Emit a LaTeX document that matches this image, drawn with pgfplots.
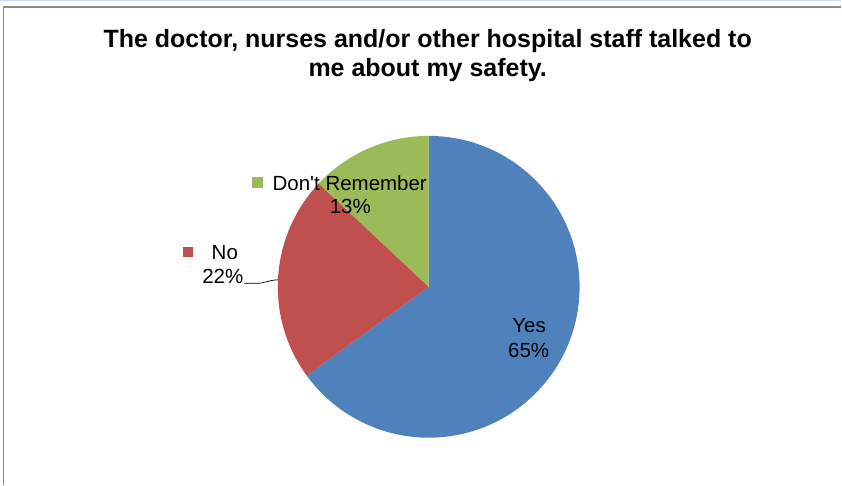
\documentclass[border=0pt]{standalone}
\usepackage{pgfplots}
\pgfplotsset{compat=1.18}
\usepackage{pgfplotstable}
\usepackage{fontspec}
\setmainfont{Liberation Sans}

\definecolor{yesblue}{HTML}{4F81BD}
\definecolor{nored}{HTML}{C0504D}
\definecolor{drgreen}{HTML}{9BBB59}
\definecolor{framegray}{HTML}{8C8C8C}
\definecolor{topblue}{HTML}{C6D9F1}

% share of answers, in percent
\pgfplotstableread{
answer value
Yes 65
No 22
DontRemember 13
}\piedata

\pgfplotstablegetelem{0}{value}\of\piedata \let\vYes\pgfplotsretval
\pgfplotstablegetelem{1}{value}\of\piedata \let\vNo\pgfplotsretval
\pgfplotstablegetelem{2}{value}\of\piedata \let\vDR\pgfplotsretval
% wedges run clockwise from 12 o'clock
\pgfmathsetmacro\aA{90-3.6*\vYes}
\pgfmathsetmacro\aB{\aA-3.6*\vNo}
\pgfmathsetmacro\aC{\aB-3.6*\vDR}

\tikzset{lbl/.style={font=\fontsize{20.5}{24.5}\selectfont, inner sep=0pt, anchor=base}}

\begin{document}
\begin{tikzpicture}
\begin{axis}[
    scale only axis, width=842pt, height=485pt,
    xmin=0, xmax=842, ymin=0, ymax=485,
    hide axis, clip=false,
]
% frame
\fill[topblue] (axis cs:0,483.5) rectangle (axis cs:842,485);
\draw[framegray, line width=1.2pt] (axis cs:3.5,0) -- (axis cs:3.5,478) -- (axis cs:842,478);

% title
\node[lbl, font=\fontsize{25}{30}\selectfont\bfseries] at (axis cs:428,437) {The doctor, nurses and/or other hospital staff talked to};
\node[lbl, font=\fontsize{25}{30}\selectfont\bfseries] at (axis cs:428,408) {me about my safety.};

% pie
\fill[yesblue] (axis cs:429,198) -- ++(90:151pt) arc[start angle=90, end angle=\aA, radius=151pt] -- cycle;
\fill[nored] (axis cs:429,198) -- ++(\aA:151pt) arc[start angle=\aA, end angle=\aB, radius=151pt] -- cycle;
\fill[drgreen] (axis cs:429,198) -- ++(\aB:151pt) arc[start angle=\aB, end angle=\aC, radius=151pt] -- cycle;

% data labels
\node[lbl] at (axis cs:529.5,152) {Yes};
\node[lbl] at (axis cs:529,127) {\vYes\%};

\fill[nored] (axis cs:183,227.5) rectangle (axis cs:193.5,238);
\node[lbl] at (axis cs:225,225) {No};
\node[lbl] at (axis cs:223,201) {\vNo\%};
\draw[black, line width=0.7pt] (axis cs:244,201.5) -- (axis cs:257,201.5) .. controls (axis cs:265,201.5) and (axis cs:268,204.5) .. (axis cs:278,205);

\fill[drgreen] (axis cs:252,297) rectangle (axis cs:263,308);
\node[lbl] at (axis cs:350,294) {Don\textquotesingle t Remember};
\node[lbl] at (axis cs:350.5,271) {\vDR\%};
\end{axis}
\end{tikzpicture}
\end{document}
